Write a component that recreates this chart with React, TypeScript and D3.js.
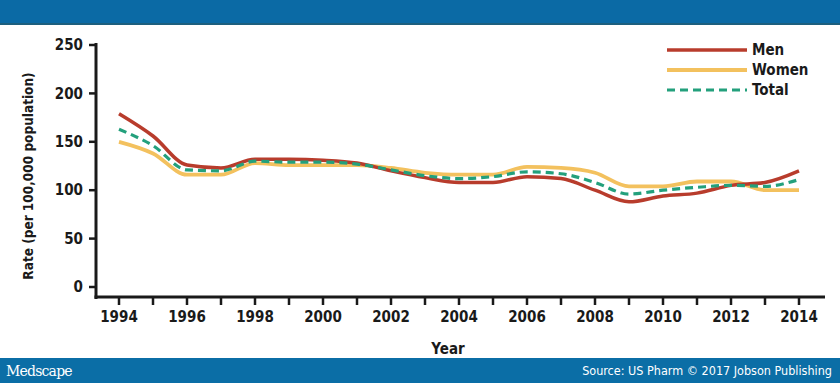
import React from "react";
import * as d3 from "d3";

const years = d3.range(1994, 2015);
const men = [179, 156, 126, 123, 132, 132, 131, 128, 120, 113, 108, 108, 114, 112, 100, 88, 94, 97, 105, 108, 120];
const women = [150, 138, 116, 116, 128, 126, 126, 126, 123, 118, 116, 116, 124, 123, 118, 104, 104, 109, 109, 100, 100];
const total = [163, 146, 121, 120, 130, 129, 129, 127, 121, 115, 112, 114, 119, 117, 108, 96, 100, 103, 105, 104, 111];
const yTicks = [0, 50, 100, 150, 200, 250];
const xLabelYears = [1994, 1996, 1998, 2000, 2002, 2004, 2006, 2008, 2010, 2012, 2014];

const FONT = "'Liberation Sans Narrow', 'DejaVu Sans Condensed', Arial, sans-serif";

export default function App() {
  const W = 840, H = 383;
  const x = d3.scaleLinear().domain([1994, 2014]).range([119, 799]);
  const y = d3.scaleLinear().domain([0, 250]).range([287, 45]);
  const axisX0 = 96, axisY = 297, axisXEnd = 825;

  const line = (vals: number[]) =>
    d3.line<number>().x((_, i) => x(years[i])).y((v) => y(v)).curve(d3.curveMonotoneX)(vals) || "";

  const series = [
    { name: "Men", vals: men, color: "#b83c2c", width: 3.5, dash: "" },
    { name: "Women", vals: women, color: "#f3c15e", width: 3.8, dash: "" },
    { name: "Total", vals: total, color: "#23a07c", width: 3.2, dash: "8,5" },
  ];
  const drawOrder = [series[1], series[0], series[2]];

  return (
    <svg width={W} height={H} style={{ position: "absolute", left: 0, top: 0, background: "#fff" }}>
      <rect x={0} y={0} width={W} height={24} fill="#0b6aa5" />
      <rect x={0} y={23} width={W} height={2} fill="#1d5f7e" />
      <rect x={0} y={358} width={W} height={25} fill="#0b6ea6" />
      <text x={6} y={376} fill="#fff" fontFamily="'DejaVu Serif', 'Liberation Serif', serif" fontSize={14} letterSpacing={-0.8}>Medscape</text>
      <text x={832} y={375} fill="#fff" textAnchor="end" fontFamily={FONT} fontSize={12.5}>Source: US Pharm © 2017 Jobson Publishing</text>

      {/* y axis */}
      <line x1={axisX0} x2={axisX0} y1={43} y2={axisY + 2} stroke="#1a1a1a" strokeWidth={3} />
      {yTicks.map((t) => (
        <g key={t}>
          <line x1={axisX0 - 7} x2={axisX0} y1={y(t)} y2={y(t)} stroke="#1a1a1a" strokeWidth={2.5} />
          <text x={83} y={y(t)} dy="0.35em" textAnchor="end" fontFamily={FONT} fontWeight="bold" fontSize={15} fill="#1a1a1a">{t}</text>
        </g>
      ))}
      {/* x axis */}
      <line x1={axisX0 - 1.5} x2={axisXEnd} y1={axisY} y2={axisY} stroke="#1a1a1a" strokeWidth={3} />
      {years.map((yr) => (
        <line key={yr} x1={x(yr)} x2={x(yr)} y1={axisY} y2={axisY + 8} stroke="#1a1a1a" strokeWidth={2.5} />
      ))}
      {xLabelYears.map((yr) => (
        <text key={yr} x={x(yr)} y={322} textAnchor="middle" fontFamily={FONT} fontWeight="bold" fontSize={15} fill="#1a1a1a">{yr}</text>
      ))}
      <text x={448} y={354} textAnchor="middle" fontFamily={FONT} fontWeight="bold" fontSize={15} fill="#1a1a1a">Year</text>
      <text transform={`translate(33,176) rotate(-90)`} textAnchor="middle" fontFamily={FONT} fontWeight="bold" fontSize={13.5} fill="#1a1a1a">Rate (per 100,000 population)</text>

      {drawOrder.map((s) => (
        <path key={s.name} d={line(s.vals)} fill="none" stroke={s.color} strokeWidth={s.width} strokeDasharray={s.dash || undefined} strokeLinejoin="round" />
      ))}

      {series.map((s, i) => {
        const ly = 50 + i * 20;
        return (
          <g key={s.name}>
            <line x1={667} x2={747} y1={ly} y2={ly} stroke={s.color} strokeWidth={s.width} strokeDasharray={s.dash ? "8,5" : undefined} />
            <text x={752} y={ly} dy="0.35em" fontFamily={FONT} fontWeight="bold" fontSize={15} fill="#1a1a1a">{s.name}</text>
          </g>
        );
      })}
    </svg>
  );
}
